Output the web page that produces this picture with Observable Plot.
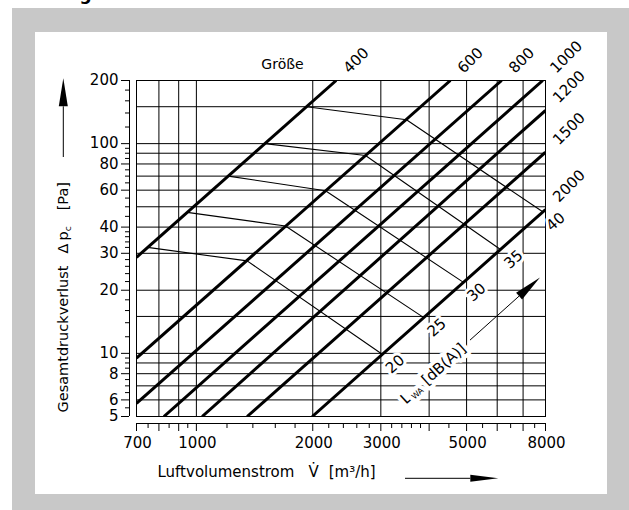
<!DOCTYPE html>
<html>
<head>
<meta charset="utf-8">
<script src="https://cdn.jsdelivr.net/npm/d3@7"></script>
<script src="https://cdn.jsdelivr.net/npm/@observablehq/plot@0.6"></script>
<style>
html, body { margin: 0; padding: 0; background: #fff; }
#wrap { position: relative; width: 629px; height: 510px; overflow: hidden; font-family: "DejaVu Sans", sans-serif; }
#gray { position: absolute; left: 12px; top: 8px; width: 617px; height: 502px; background: #c8c8c8; }
#panel { position: absolute; left: 35px; top: 32px; width: 572px; height: 462px; background: #fff; }
.head { position: absolute; top: -15px; font: bold 17px "DejaVu Sans", sans-serif; line-height: 19px; white-space: pre; color: #000; }
#chart { position: absolute; left: 0; top: 0; }
</style>
</head>
<body>
<div id="wrap">
  <div class="head" style="left:48px">Diagramm 2</div>
  <div class="head" style="left:240px">Kennlinien</div>
  <div id="gray"></div>
  <div id="panel"></div>
  <div id="chart"></div>
</div>
<script>
// ---- data ----
const sizes   = [400, 600, 800, 1000, 1200, 1500, 2000];        // Größe
const sizeV1  = [700, 700, 700, 824, 1035, 1353, 1994];          // start: volume flow m³/h
const sizeDp1 = [28.7, 9.5, 5.78, 5, 5, 5, 5];                   // start: pressure loss Pa
const sizeV2  = [2300, 4540, 6160, 7870, 8000, 8000, 8000];      // end: volume flow
const sizeDp2 = [200, 200, 200, 200, 144, 91, 48.5];             // end: pressure loss

const levels   = [20, 25, 30, 35, 40];                           // L_WA dB(A)
const levelV   = [[748, 1353, 3025], [947, 1700, 3875], [1209, 2158, 4909], [1504, 2738, 6120], [1928, 3495, 7868]];
const levelDp  = [[32, 27.6, 9.9], [47, 40.5, 14.8], [70, 59.6, 21.8], [100, 87.8, 31.3], [150, 130, 47.3]];

const xGrid   = [700, 800, 900, 1000, 2000, 3000, 4000, 5000, 6000, 7000, 8000];
const xMinor  = [750, 850, 950, 1200, 1400, 1600, 1800, 2200, 2400, 2600, 2800, 3200, 3400, 3600, 3800, 4500, 5500, 6500, 7500];
const xLabels = [700, 1000, 2000, 3000, 5000, 8000];
const yGrid   = [5, 6, 7, 8, 9, 10, 15, 20, 30, 40, 50, 60, 70, 80, 90, 100, 150, 200];
const yLabels = [5, 6, 8, 10, 20, 30, 40, 60, 80, 100, 200];
const yMinor  = [5.5, 6.5, 7, 7.5, 8.5, 9, 9.5, 12, 14, 16, 18, 22, 24, 26, 28, 32, 34, 36, 38, 45, 50, 55, 65, 70, 75, 85, 90, 95, 120, 140, 160, 180];

const lwaLabel = {V: 4100, dp: 8};
const lwaArrow = {V1: 5117, dp1: 11.5, V2: 7763, dp2: 22.9};

const yTitle = "Gesamtdruckverlust Δpc [Pa]";
const xTitle = "Luftvolumenstrom V̇ [m³/h]";
const lwaText = "LWA [dB(A)]";

// ---- tables ----
const sizeRows = sizes.flatMap((s, i) => [
  {size: s, V: sizeV1[i], dp: sizeDp1[i]},
  {size: s, V: sizeV2[i], dp: sizeDp2[i]}
]);
const sizeEnds = sizes.map((s, i) => ({size: s, V: sizeV2[i], dp: sizeDp2[i]}));
const levelRows = levels.flatMap((L, i) => levelV[i].map((v, j) => ({level: L, V: v, dp: levelDp[i][j]})));
const levelEnds = levels.map((L, i) => ({level: L, V: levelV[i][2], dp: levelDp[i][2]}));

function drawArrow(g, x1, y1, x2, y2, len, hw) {
  const dx = x2 - x1, dy = y2 - y1, d = Math.hypot(dx, dy), ux = dx / d, uy = dy / d;
  const bx = x2 - ux * len, by = y2 - uy * len;
  g.append("line").attr("x1", x1).attr("y1", y1).attr("x2", bx).attr("y2", by)
    .attr("stroke", "black").attr("stroke-width", 1);
  g.append("path")
    .attr("d", `M${x2},${y2}L${bx - uy * hw},${by + ux * hw}L${bx + uy * hw},${by - ux * hw}Z`)
    .attr("fill", "black");
}

const fmt = d => String(d);
const blank = () => "";

const chart = Plot.plot({
  width: 629,
  height: 510,
  marginLeft: 136,
  marginRight: 84,
  marginTop: 80,
  marginBottom: 94,
  x: {type: "log", domain: [700, 8000], label: null},
  y: {type: "log", domain: [5, 200], label: null},
  style: {background: "transparent", fontFamily: "DejaVu Sans, sans-serif", fontSize: "14px", color: "black", overflow: "visible"},
  marks: [
    Plot.ruleX(xGrid, {stroke: "black", strokeWidth: 1}),
    Plot.ruleY(yGrid, {stroke: "black", strokeWidth: 1}),
    Plot.frame({stroke: "black"}),
    // axis lines offset from the frame
    Plot.ruleX([700], {y1: 5, y2: 200, dx: -7, stroke: "black"}),
    Plot.ruleY([5], {x1: 700, x2: 8000, dy: 7, stroke: "black"}),
    Plot.axisY(yLabels, {anchor: "left", tickSize: 8, dx: -7, tickFormat: blank, label: null}),
    Plot.axisY(yMinor, {anchor: "left", tickSize: 4, dx: -7, tickFormat: blank, label: null}),
    Plot.axisX(xGrid, {anchor: "bottom", tickSize: 8, dy: 7, tickFormat: blank, label: null}),
    Plot.axisX(xMinor, {anchor: "bottom", tickSize: 5, dy: 7, tickFormat: blank, label: null}),
    // tick labels
    Plot.text(yLabels, {frameAnchor: "left", y: d => d, text: fmt, textAnchor: "end", lineAnchor: "middle", dx: -18, fill: "black", fontSize: 15}),
    Plot.text(xLabels, {frameAnchor: "bottom", x: d => d, text: fmt, textAnchor: "middle", lineAnchor: "middle", dy: 27, dx: 1, fill: "black", fontSize: 15}),
    // L_WA curves
    Plot.line(levelRows, {x: "V", y: "dp", z: "level", stroke: "black", strokeWidth: 1.1, clip: true}),
    // size lines
    Plot.line(sizeRows, {x: "V", y: "dp", z: "size", stroke: "black", strokeWidth: 3, strokeLinecap: "butt", clip: true}),
    // labels
    Plot.text(sizeEnds, {x: "V", y: "dp", text: d => String(d.size), rotate: -45, textAnchor: "start", dx: 10, dy: -10, fill: "black", fontSize: 15}),
    Plot.text(levelEnds, {x: "V", y: "dp", text: d => String(d.level), rotate: -42, dx: 13, dy: 10, fill: "black", stroke: "white", strokeWidth: 6, paintOrder: "stroke", fontSize: 15}),
    Plot.text([lwaText], {x: () => lwaLabel.V, y: () => lwaLabel.dp, text: d => d, rotate: -42, fill: "black", stroke: "white", strokeWidth: 8, paintOrder: "stroke", fontSize: 15}),
    Plot.text(["Größe"], {frameAnchor: "top-left", text: d => d, textAnchor: "middle", lineAnchor: "middle", dx: 146, dy: -16, fill: "black", fontSize: 14}),
    Plot.text([yTitle], {frameAnchor: "left", text: d => d, rotate: -90, textAnchor: "start", lineAnchor: "middle", dx: -73, dy: 164, fill: "black", fontSize: 14.5}),
    Plot.text([xTitle], {frameAnchor: "bottom-left", text: d => d, textAnchor: "start", lineAnchor: "middle", dx: 21, dy: 55.7, fill: "black", fontSize: 15}),
    // arrows
    (index, scales, values, dims) => {
      const g = d3.create("svg:g");
      const {x, y} = scales;
      drawArrow(g, x(lwaArrow.V1), y(lwaArrow.dp1), x(lwaArrow.V2), y(lwaArrow.dp2), 28, 4.5);
      const left = dims.marginLeft, top = dims.marginTop, bottom = dims.height - dims.marginBottom;
      drawArrow(g, left - 72.7, top + 77, left - 72.7, top - 1.7, 28, 4.5);
      drawArrow(g, left + 269, bottom + 62.3, left + 362.3, bottom + 62.3, 28, 3.5);
      return g.node();
    }
  ]
});

function rich(svg, match, parts) {
  d3.select(svg).selectAll("text").filter(function () { return this.textContent === match; }).each(function () {
    const t = d3.select(this);
    t.text(null);
    for (const p of parts) {
      const s = t.append("tspan").text(p.t);
      if (p.dx != null) s.attr("dx", p.dx);
      if (p.dy != null) s.attr("dy", p.dy);
      if (p.fs != null) s.attr("font-size", p.fs);
    }
  });
}
rich(chart, yTitle, [{t: "Gesamtdruckverlust"}, {t: "Δ", dx: 12}, {t: "p", dx: 3}, {t: "c", fs: 9, dy: 3}, {t: "[Pa]", dx: 16, dy: -3}]);
rich(chart, xTitle, [{t: "Luftvolumenstrom"}, {t: "V̇", dx: 14}, {t: "[m³/h]", dx: 10}]);
rich(chart, lwaText, [{t: "L"}, {t: "WA", fs: 8, dy: 2, dx: 1}, {t: "[dB(A)]", dx: 6, dy: -2}]);

document.getElementById("chart").appendChild(chart);
</script>
</body>
</html>
